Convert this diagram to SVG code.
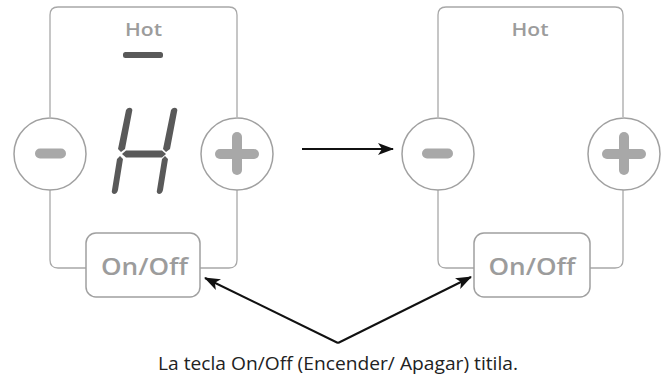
<svg xmlns="http://www.w3.org/2000/svg" width="671" height="379" viewBox="0 0 671 379">
<style>
.panel{fill:none;stroke:#a8a8a8;stroke-width:1.3}
.btn{fill:#fff;stroke:#a0a0a0;stroke-width:1.5}
.sym{fill:#a8a8a8}
.lbl{font-family:"Open Sans","Liberation Sans",Arial,sans-serif;fill:#9c9c9c;font-weight:600}
.seg{fill:#595959}
.conn{fill:none;stroke:#111;stroke-width:2}
.cap{font-family:"Open Sans","Liberation Sans",Arial,sans-serif;font-size:18px;fill:#222}
</style>
<defs>
<marker id="ah" viewBox="0 0 16 12" refX="15" refY="6" markerWidth="16" markerHeight="12" markerUnits="userSpaceOnUse" orient="auto">
<path d="M0,0 L16,6 L0,12 L4,6 z" fill="#111"/>
</marker>
</defs>
<rect width="671" height="379" fill="#fff"/>

<g id="panel-left">
<path class="panel" d="M50,117 V15 Q50,7 58,7 H229 Q237,7 237,15 V117 M237,190 V260 Q237,268 229,268 H200 M86,268 H58 Q50,268 50,260 V190"/>
<text class="lbl" x="143.5" y="36" font-size="18" text-anchor="middle" textLength="37" lengthAdjust="spacingAndGlyphs">Hot</text>
<rect x="123" y="52" width="40" height="6" rx="2.5" fill="#595959"/>
<g id="digit-H">
<path class="seg" d="M126,110 Q128,107 131,108 Q133,109 132,112 L125,149 L121,152 L118,149 Z"/>
<path class="seg" d="M117,159 L120,156 L123,159 L118,190 Q117,194 114,194 Q111,193 112,190 Z"/>
<path class="seg" d="M171,110 Q173,107 176,108 Q178,109 177,112 L170,149 L166,152 L163,149 Z"/>
<path class="seg" d="M162,159 L165,156 L168,159 L163,190 Q162,194 159,194 Q156,193 157,190 Z"/>
<path class="seg" d="M122,154 L126,150.5 L162,150.5 L166,154 L162,157.5 L126,157.5 Z"/>
</g>
</g>
<g id="minus-left">
<circle class="btn" cx="50" cy="154" r="36"/>
<rect class="sym" x="35" y="148.5" width="31" height="10" rx="5"/>
</g>
<g id="plus-left">
<circle class="btn" cx="237" cy="154" r="36"/>
<rect class="sym" x="215" y="149" width="44" height="10" rx="5"/>
<rect class="sym" x="232" y="132" width="10" height="43" rx="5"/>
</g>
<g id="onoff-left">
<rect class="btn" x="86" y="233" width="114" height="64" rx="10"/>
<text class="lbl" x="144.5" y="275" font-size="23" text-anchor="middle" textLength="87" lengthAdjust="spacingAndGlyphs">On/Off</text>
</g>

<g id="panel-right">
<path class="panel" d="M438,117 V15 Q438,7 446,7 H615 Q623,7 623,15 V117 M623,190 V260 Q623,268 615,268 H590 M474,268 H446 Q438,268 438,260 V190"/>
<text class="lbl" x="530" y="36" font-size="18" text-anchor="middle" textLength="37" lengthAdjust="spacingAndGlyphs">Hot</text>
</g>
<g id="minus-right">
<circle class="btn" cx="438" cy="154" r="36"/>
<rect class="sym" x="422" y="148.5" width="31" height="10" rx="5"/>
</g>
<g id="plus-right">
<circle class="btn" cx="624" cy="154" r="36"/>
<rect class="sym" x="602" y="149" width="44" height="10" rx="5"/>
<rect class="sym" x="619" y="132" width="10" height="43" rx="5"/>
</g>
<g id="onoff-right">
<rect class="btn" x="474" y="233" width="116" height="64" rx="10"/>
<text class="lbl" x="532" y="275" font-size="23" text-anchor="middle" textLength="87" lengthAdjust="spacingAndGlyphs">On/Off</text>
</g>

<g id="connectors">
<line class="conn" x1="302" y1="149" x2="393" y2="149" marker-end="url(#ah)"/>
<line class="conn" x1="338" y1="343" x2="205" y2="278" marker-end="url(#ah)"/>
<line class="conn" x1="338" y1="343" x2="471" y2="277" marker-end="url(#ah)"/>
</g>
<text class="cap" x="338" y="370" text-anchor="middle" textLength="360" lengthAdjust="spacingAndGlyphs">La tecla On/Off (Encender/ Apagar) titila.</text>
</svg>
